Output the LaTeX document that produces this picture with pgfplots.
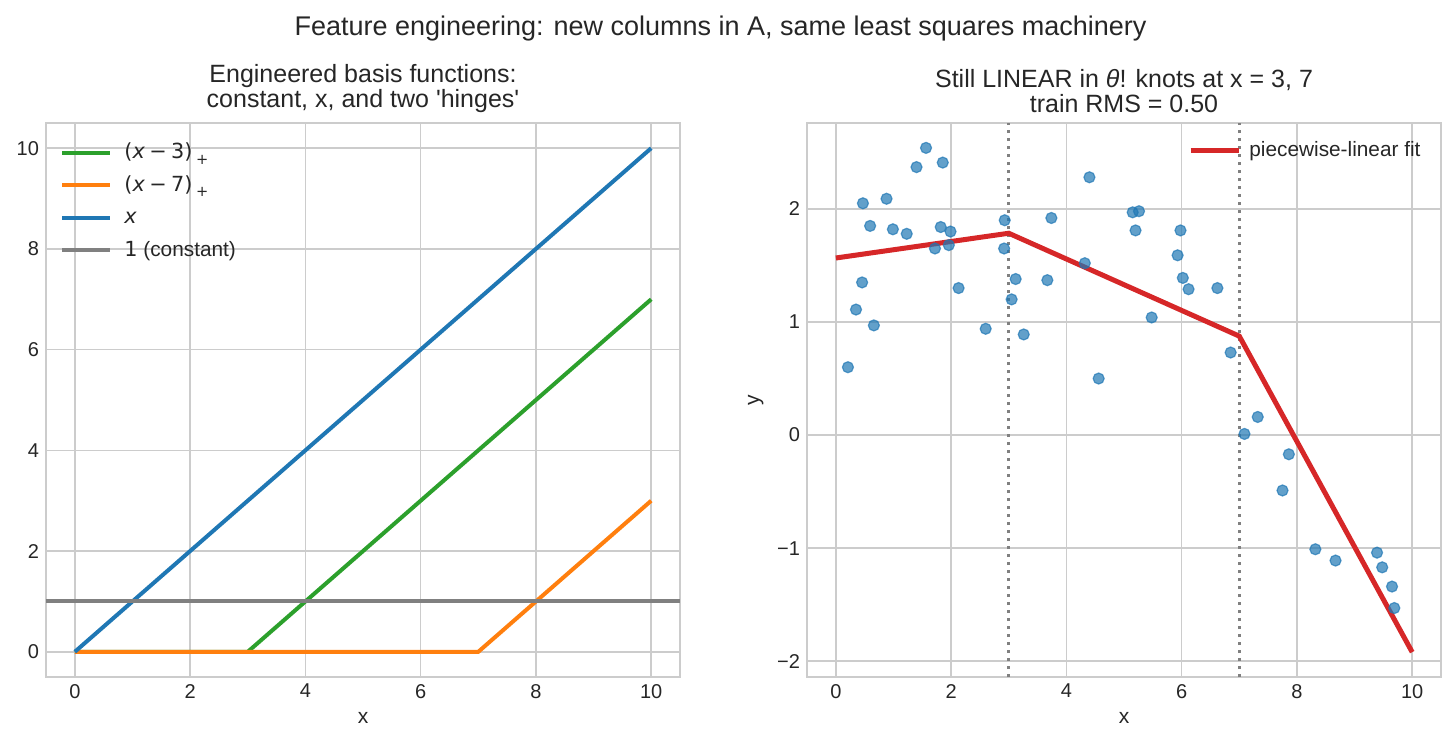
\documentclass[border=0pt]{standalone}
\usepackage{fontspec}
\setmainfont{Liberation Sans}
\newfontfamily\dejavu{DejaVu Sans}
\usepackage{pgfplots}
\usepackage{pgfplotstable}
\pgfplotsset{compat=1.18}

\definecolor{mplblue}{HTML}{1F77B4}
\definecolor{mplorange}{HTML}{FF7F0E}
\definecolor{mplgreen}{HTML}{2CA02C}
\definecolor{mplred}{HTML}{D62728}
\definecolor{constgray}{HTML}{808080}
\definecolor{gridgray}{HTML}{CCCCCC}
\definecolor{textgray}{HTML}{262626}

% noisy training sample
\pgfplotstableread{
x y
0.21 0.60
0.35 1.11
0.456 1.35
0.47 2.05
0.595 1.85
0.66 0.97
0.88 2.09
0.99 1.82
1.23 1.78
1.40 2.37
1.565 2.54
1.72 1.65
1.82 1.84
1.855 2.41
1.96 1.68
1.99 1.80
2.13 1.30
2.60 0.94
2.92 1.65
2.93 1.90
3.05 1.20
3.12 1.38
3.26 0.89
3.67 1.37
3.74 1.92
4.32 1.52
4.40 2.28
4.56 0.50
5.15 1.97
5.20 1.81
5.26 1.98
5.48 1.04
5.93 1.59
5.98 1.81
6.02 1.39
6.12 1.29
6.62 1.30
6.85 0.73
7.09 0.01
7.32 0.16
7.75 -0.49
7.86 -0.17
8.32 -1.01
8.67 -1.11
9.39 -1.04
9.48 -1.17
9.65 -1.34
9.69 -1.53
}\samples

% hinge feature (x - k)_+ written in the math face
\newcommand{\hinge}[1]{\hspace{2pt}{\dejavu(\textit{x}\hspace{2.2pt}−\hspace{2.2pt}#1)\raisebox{-0.5ex}{\fontsize{7.3}{8}\selectfont\hspace{1.8pt}+}}}

\pgfplotsset{
  panel/.style={
    scale only axis, width=317pt, height=277pt,
    axis line style={draw=gridgray, line width=1pt},
    grid=major, major grid style={draw=gridgray, line width=0.8pt},
    tick style={draw=none},
    tick label style={font=\fontsize{10}{12}\selectfont, text=textgray},
    label style={font=\fontsize{10.5}{12}\selectfont, text=textgray},
    title style={font=\fontsize{12.5}{12.8}\selectfont, text=textgray, align=center, yshift=-4.5pt},
    xmin=-0.5, xmax=10.5, xtick={0,2,...,10},
    /pgf/number format/assume math mode=true,
    xlabel={x},
    legend cell align=left,
    legend image code/.code={\draw[##1] (0pt,0pt) -- (22pt,0pt); \path (22pt,0pt) -- (24pt,0pt);},
    legend style={draw=none, fill=none, text=textgray,
      font=\fontsize{10.4}{12}\selectfont,
      nodes={inner xsep=4.2pt, inner ysep=0pt, text height=8.5pt, text depth=2.5pt},
      row sep=5.25pt},
  },
}

\begin{document}
\begin{tikzpicture}
\useasboundingbox (0,0) rectangle (727.5pt,373pt);

\node[font=\fontsize{13.5}{16}\selectfont, text=textgray] at (360.25pt,358.5pt)
  {Feature engineering: new columns in A, same least squares machinery};

% left panel: the basis functions
\begin{axis}[panel,
  at={(23pt,34.5pt)}, anchor=south west,
  ymin=-0.5, ymax=10.5, ytick={0,2,...,10},
  title={Engineered basis functions:\\constant, x, and two \textquotesingle hinges\textquotesingle},
  legend style={at={(axis description cs:0.012,0.974)}, anchor=north west},
]
\addplot[mplgreen, line width=2pt] coordinates {(0,0) (3,0) (10,7)};
\addlegendentry{\hinge{3}}
\addplot[mplorange, line width=2pt] coordinates {(0,0) (7,0) (10,3)};
\addlegendentry{\hinge{7}}
\addplot[mplblue, line width=2pt] coordinates {(0,0) (10,10)};
\addlegendentry{\hspace{2pt}{\dejavu\textit{x}}}
\addplot[constgray, line width=2pt] coordinates {(-0.5,1) (10.5,1)};
\addlegendentry{\hspace{2pt}{\dejavu 1} (constant)}
\end{axis}

% right panel: data and the hinge fit
\begin{axis}[panel,
  at={(403.5pt,34.5pt)}, anchor=south west,
  ymin=-2.14, ymax=2.76, ytick={-2,-1,0,1,2},
  yticklabels={−2,−1,0,1,2},
  ylabel={y},
  title={Still LINEAR in \textit{θ}! knots at x = 3, 7\\train RMS = 0.50},
  legend style={at={(axis description cs:0.991,0.979)}, anchor=north east},
]
\addplot[only marks, mark=*, mark size=2.75pt, mark options={fill=mplblue, draw=mplblue,
  fill opacity=0.7, draw opacity=0.7, line width=0.6pt}, forget plot] table[x=x, y=y] {\samples};
\addplot[constgray, line width=1.5pt, dash pattern=on 1.5pt off 2.5pt, forget plot]
  coordinates {(3,-2.14) (3,2.76)};
\addplot[constgray, line width=1.5pt, dash pattern=on 1.5pt off 2.5pt, forget plot]
  coordinates {(7,-2.14) (7,2.76)};
\addplot[mplred, line width=2.5pt] coordinates {(0,1.566) (3,1.785) (7,0.875) (10,-1.92)};
\addlegendentry{piecewise-linear fit}
\end{axis}
\end{tikzpicture}
\end{document}
